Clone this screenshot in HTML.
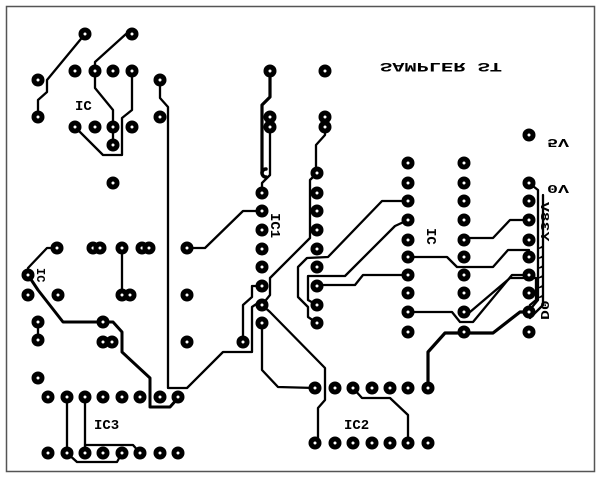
<!DOCTYPE html>
<html><head><meta charset="utf-8"><style>
html,body{margin:0;padding:0;background:#fff;}
svg{display:block;}
text{font-family:"Liberation Mono",monospace;font-weight:bold;fill:#000;}
</style></head><body>
<svg width="600" height="479" viewBox="0 0 600 479" xmlns="http://www.w3.org/2000/svg">
<rect x="0" y="0" width="600" height="479" fill="#fff"/>
<rect x="6.5" y="6.5" width="588" height="465" fill="none" stroke="#555" stroke-width="1.5"/>
<g fill="none" stroke="#000" stroke-width="2.3" stroke-linejoin="round" stroke-linecap="round">
<path d="M85,34 L47,80 L47,92 L38,100 L38,117"/>
<path d="M132,34 L126,34 L95,62 L95,88 L113,110 L113,145"/>
<path d="M132,71 L132,110 L122,118 L122,155 L103,155 L75,127"/>
<path d="M160,80 L160,98 L168,107 L168,388 L187,388 L223,352 L252,352 L252,307 L262,300"/>
<path d="M270,71 L270,97 L262,105 L262,173" stroke-width="3.2"/>
<path d="M270,127 L270,175 L262,183 L262,193"/>
<path d="M262,211 L243,211 L205,248 L187,248"/>
<path d="M262,286 L252,286 L252,297 L243,305 L243,342"/>
<path d="M325,127 L325,135 L316,145 L316,173"/>
<path d="M317,173 L310,180 L310,238 L270,278 L270,295 L262,305"/>
<path d="M262,305 L270,312 L325,368 L325,400 L318,408 L318,443"/>
<path d="M262,320 L262,370 L278,387 L315,388"/>
<path d="M408,201 L382,201 L328,257 L307,258 L298,267 L298,297 L308,307 L308,317 L317,323"/>
<path d="M408,220 L395,226 L345,276 L308,276 L308,300 L317,305"/>
<path d="M408,275 L363,275 L355,285 L317,285"/>
<path d="M408,257 L447,257 L457,267 L493,267 L508,250 L529,250"/>
<path d="M408,312 L452,312 L460,322 L473,322 L512,275 L529,275"/>
<path d="M465,238 L493,238 L510,220 L529,220"/>
<path d="M470,312 L510,278 L536,278 L536,300 L530,305"/>
<path d="M529,183 L538,190 L538,300 L528,312"/>
<path d="M543,195 L543,305 L530,318"/>
<path d="M428,388 L428,352 L445,333 L493,333 L520,312 L529,312" stroke-width="3.2"/>
<path d="M353,388 L362,398 L390,398 L408,415 L408,443"/>
<path d="M122,248 L122,295"/>
<path d="M57,248 L47,248 L28,268 L28,275"/>
<path d="M28,275 L38,290 L63,322 L113,322 L122,332 L122,352 L150,378 L150,407 L170,407 L178,398" stroke-width="3"/>
<path d="M38,322 L38,340"/>
<path d="M67,397 L67,453"/>
<path d="M85,397 L85,453"/>
<path d="M85,445 L133,445 L140,453"/>
<path d="M67,453 L77,462 L117,462 L122,453"/>
<path d="M266,169 A4,4 0 1 0 266,177" stroke-width="3.5"/>
</g>
<g fill="#fff" stroke="#000" stroke-width="5">
<circle cx="85" cy="34" r="4"/><circle cx="132" cy="34" r="4"/>
<circle cx="38" cy="80" r="4"/><circle cx="75" cy="71" r="4"/><circle cx="95" cy="71" r="4"/><circle cx="113" cy="71" r="4"/><circle cx="132" cy="71" r="4"/>
<circle cx="38" cy="117" r="4"/><circle cx="75" cy="127" r="4"/><circle cx="95" cy="127" r="4"/><circle cx="113" cy="127" r="4"/><circle cx="132" cy="127" r="4"/>
<circle cx="113" cy="145" r="4"/><circle cx="160" cy="80" r="4"/><circle cx="160" cy="117" r="4"/><circle cx="113" cy="183" r="4"/>
<circle cx="270" cy="71" r="4"/><circle cx="270" cy="117" r="4"/><circle cx="270" cy="127" r="4"/>
<circle cx="325" cy="71" r="4"/><circle cx="325" cy="117" r="4"/><circle cx="325" cy="127" r="4"/>
<circle cx="262" cy="193" r="4"/><circle cx="262" cy="211" r="4"/><circle cx="262" cy="230" r="4"/><circle cx="262" cy="249" r="4"/><circle cx="262" cy="267" r="4"/><circle cx="262" cy="286" r="4"/><circle cx="262" cy="305" r="4"/><circle cx="262" cy="323" r="4"/>
<circle cx="317" cy="173" r="4"/><circle cx="317" cy="193" r="4"/><circle cx="317" cy="211" r="4"/><circle cx="317" cy="230" r="4"/><circle cx="317" cy="249" r="4"/><circle cx="317" cy="267" r="4"/><circle cx="317" cy="286" r="4"/><circle cx="317" cy="305" r="4"/><circle cx="317" cy="323" r="4"/>
<circle cx="408" cy="163" r="4"/><circle cx="408" cy="183" r="4"/><circle cx="408" cy="201" r="4"/><circle cx="408" cy="220" r="4"/><circle cx="408" cy="240" r="4"/><circle cx="408" cy="257" r="4"/><circle cx="408" cy="275" r="4"/><circle cx="408" cy="293" r="4"/><circle cx="408" cy="312" r="4"/><circle cx="408" cy="332" r="4"/>
<circle cx="464" cy="163" r="4"/><circle cx="464" cy="183" r="4"/><circle cx="464" cy="201" r="4"/><circle cx="464" cy="220" r="4"/><circle cx="464" cy="240" r="4"/><circle cx="464" cy="257" r="4"/><circle cx="464" cy="275" r="4"/><circle cx="464" cy="293" r="4"/><circle cx="464" cy="312" r="4"/><circle cx="464" cy="332" r="4"/>
<circle cx="529" cy="135" r="4"/>
<circle cx="529" cy="183" r="4"/><circle cx="529" cy="201" r="4"/><circle cx="529" cy="220" r="4"/><circle cx="529" cy="240" r="4"/><circle cx="529" cy="257" r="4"/><circle cx="529" cy="275" r="4"/><circle cx="529" cy="293" r="4"/><circle cx="529" cy="312" r="4"/><circle cx="529" cy="332" r="4"/>
<circle cx="57" cy="248" r="4"/><circle cx="93" cy="248" r="4"/><circle cx="100" cy="248" r="4"/><circle cx="122" cy="248" r="4"/><circle cx="142" cy="248" r="4"/><circle cx="149" cy="248" r="4"/><circle cx="187" cy="248" r="4"/>
<circle cx="28" cy="275" r="4"/><circle cx="28" cy="295" r="4"/><circle cx="58" cy="295" r="4"/><circle cx="122" cy="295" r="4"/><circle cx="130" cy="295" r="4"/><circle cx="187" cy="295" r="4"/>
<circle cx="38" cy="322" r="4"/><circle cx="38" cy="340" r="4"/><circle cx="103" cy="322" r="4"/><circle cx="103" cy="342" r="4"/><circle cx="112" cy="342" r="4"/><circle cx="187" cy="342" r="4"/><circle cx="243" cy="342" r="4"/>
<circle cx="38" cy="378" r="4"/>
<circle cx="48" cy="397" r="4"/><circle cx="67" cy="397" r="4"/><circle cx="85" cy="397" r="4"/><circle cx="103" cy="397" r="4"/><circle cx="122" cy="397" r="4"/><circle cx="140" cy="397" r="4"/><circle cx="160" cy="397" r="4"/><circle cx="178" cy="397" r="4"/>
<circle cx="48" cy="453" r="4"/><circle cx="67" cy="453" r="4"/><circle cx="85" cy="453" r="4"/><circle cx="103" cy="453" r="4"/><circle cx="122" cy="453" r="4"/><circle cx="140" cy="453" r="4"/><circle cx="160" cy="453" r="4"/><circle cx="178" cy="453" r="4"/>
<circle cx="315" cy="388" r="4"/><circle cx="335" cy="388" r="4"/><circle cx="353" cy="388" r="4"/><circle cx="372" cy="388" r="4"/><circle cx="390" cy="388" r="4"/><circle cx="408" cy="388" r="4"/><circle cx="428" cy="388" r="4"/>
<circle cx="315" cy="443" r="4"/><circle cx="335" cy="443" r="4"/><circle cx="353" cy="443" r="4"/><circle cx="372" cy="443" r="4"/><circle cx="390" cy="443" r="4"/><circle cx="408" cy="443" r="4"/><circle cx="428" cy="443" r="4"/>
</g>
<text x="75" y="110" font-size="14">IC</text>
<text x="94" y="429" font-size="14">IC3</text>
<text x="344" y="429" font-size="14">IC2</text>
<g transform="translate(380,54) scale(1,-1)"><text x="0" y="-9" font-size="13" textLength="122" lengthAdjust="spacingAndGlyphs" font-family="Liberation Sans">SAMPLER ST</text></g>
<g transform="translate(547,130) scale(1,-1)"><text x="0" y="-9" font-size="12" textLength="22" lengthAdjust="spacingAndGlyphs" font-family="Liberation Sans">5V</text></g>
<g transform="translate(547,176) scale(1,-1)"><text x="0" y="-9" font-size="12" textLength="22" lengthAdjust="spacingAndGlyphs" font-family="Liberation Sans">0V</text></g>
<g transform="translate(271,213) rotate(90)"><text x="0" y="0" font-size="14">IC1</text></g>
<g transform="translate(427,228) rotate(90)"><text x="0" y="0" font-size="14">IC</text></g>
<g transform="translate(550,320) rotate(-90) scale(1,-1)"><text x="0" y="9" font-size="12" textLength="118" lengthAdjust="spacingAndGlyphs" font-family="Liberation Sans">D0,,,,,,Y38V</text></g>
<g transform="translate(37,268) rotate(90)"><text x="0" y="0" font-size="12">IC</text></g>
</svg>
</body></html>
